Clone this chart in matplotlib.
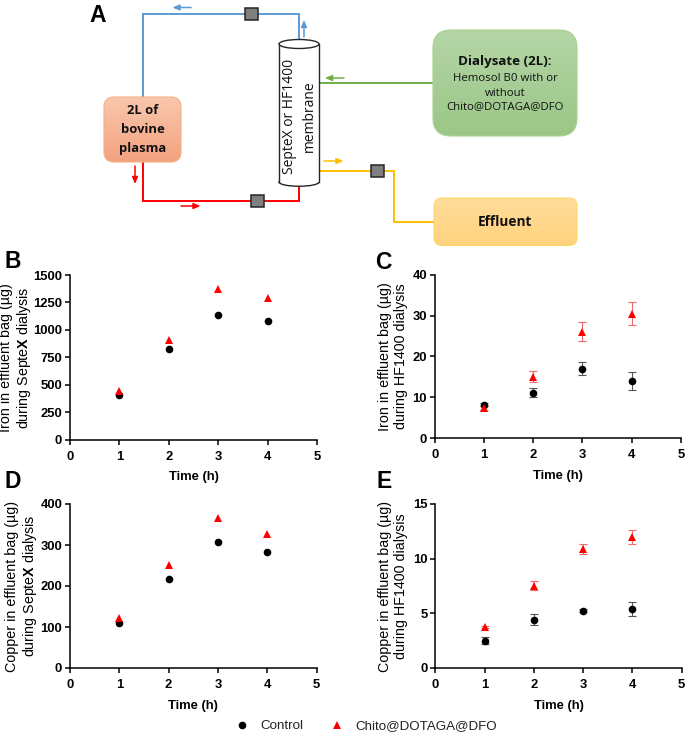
import numpy as np
import matplotlib
matplotlib.use('Agg')
import matplotlib.pyplot as plt
from matplotlib.patches import FancyBboxPatch, Rectangle, Ellipse
from matplotlib.lines import Line2D

plt.rcParams['font.family'] = ['Liberation Sans', 'DejaVu Sans']
plt.rcParams['mathtext.fontset'] = 'custom'
plt.rcParams['mathtext.rm'] = 'Liberation Sans'
plt.rcParams['mathtext.bf'] = 'Liberation Sans:bold'

W, H = 685, 734
DIAG_FONT = ['Open Sans', 'DejaVu Sans']

# data
hours = [1, 2, 3, 4]

iron_septex_ctrl = [407, 823, 1139, 1081]
iron_septex_chito = [443, 908, 1369, 1290]

iron_hf_ctrl = [8.2, 11.1, 17.0, 13.9]
iron_hf_ctrl_err = [0.4, 1.15, 1.6, 2.2]
iron_hf_chito = [7.4, 15.0, 26.0, 30.4]
iron_hf_chito_err = [0.5, 1.4, 2.3, 2.8]

copper_septex_ctrl = [109, 216, 307, 284]
copper_septex_chito = [121, 251, 367, 328]

copper_hf_ctrl = [2.5, 4.4, 5.24, 5.37]
copper_hf_ctrl_err = [0.3, 0.5, 0.15, 0.65]
copper_hf_chito = [3.78, 7.53, 10.85, 12.0]
copper_hf_chito_err = [0.1, 0.4, 0.45, 0.65]

fig = plt.figure(figsize=(W / 100, H / 100), dpi=100)

#%% schematic, drawn in pixel coordinates
diag = fig.add_axes([0, 0, 1, 1])
diag.set_xlim(0, W)
diag.set_ylim(H, 0)
diag.axis('off')

BLUE = '#5b9bd5'
RED = '#ff0000'
GREEN = '#70ad47'
YELLOW = '#ffc000'


def gradient_box(x0, y0, x1, y1, r, top, bottom, edge):
    grad = np.linspace(0, 1, 64)[:, None]
    c0 = np.array(matplotlib.colors.to_rgb(top))
    c1 = np.array(matplotlib.colors.to_rgb(bottom))
    img = (c0 + (c1 - c0) * grad)[:, None, :].reshape(64, 1, 3)
    box = FancyBboxPatch((x0 + r, y0 + r), x1 - x0 - 2 * r, y1 - y0 - 2 * r,
                         boxstyle='round,pad=%f,rounding_size=%f' % (r, r),
                         fc='none', ec=edge, lw=0.8, zorder=3)
    diag.add_patch(box)
    im = diag.imshow(img, extent=(x0, x1, y1, y0), aspect='auto', zorder=2)
    im.set_clip_path(box)


def pipe(xs, ys, color):
    diag.plot(xs, ys, color=color, lw=1.4, zorder=1, solid_joinstyle='miter')


def arrow(x0, y0, x1, y1, color):
    diag.annotate('', xy=(x1, y1), xytext=(x0, y0), zorder=4,
                  arrowprops=dict(arrowstyle='-|>,head_width=0.17,head_length=0.4',
                                  color=color, lw=1.1, shrinkA=0, shrinkB=0))


def valve(x, y):
    diag.add_patch(Rectangle((x - 6.5, y - 6), 13, 12, fc='#7f7f7f', ec='#262626',
                             lw=1.1, zorder=4))


pipe([142.7, 142.7, 299, 299], [97, 14, 14, 39], BLUE)
pipe([142.7, 142.7, 299, 299], [162, 201, 201, 186], RED)
pipe([319, 433], [83, 83], GREEN)
pipe([319, 394, 394, 434], [171, 171, 221.7, 221.7], YELLOW)

valve(251.5, 13.5)
valve(257.7, 201)
valve(378, 171)

arrow(191, 7.5, 172.5, 7.5, BLUE)
arrow(304, 37, 304, 20, BLUE)
arrow(135, 166, 135, 184, RED)
arrow(181, 206, 200.5, 206, RED)
arrow(344, 78, 325, 78, GREEN)
arrow(324, 161, 343.5, 161, YELLOW)

# membrane cylinder
diag.add_patch(Rectangle((279, 44), 40, 138, fc='white', ec='none', zorder=3))
diag.add_patch(Ellipse((299, 182), 40, 8.5, fc='white', ec='#262626', lw=1.0, zorder=2.5))
diag.plot([279, 279], [44, 182], color='#262626', lw=1.0, zorder=4)
diag.plot([319, 319], [44, 182], color='#262626', lw=1.0, zorder=4)
diag.add_patch(Ellipse((299, 44), 40, 9, fc='white', ec='#262626', lw=1.0, zorder=4))
diag.text(299.5, 116, 'SepteX or HF1400\nmembrane', rotation=90, ha='center', va='center',
          family=DIAG_FONT, fontsize=10, color='#111111', linespacing=1.42, zorder=5)

gradient_box(104, 97, 181, 162, 10, '#f9c7ad', '#f4a27f', '#f4b183')
diag.text(142.5, 129.5, '2L of\nbovine\nplasma', ha='center', va='center', family=DIAG_FONT,
          fontsize=9.4, fontweight='bold', color='#111111', linespacing=1.58, zorder=5)

gradient_box(433, 30, 577, 136, 18, '#b5d5a6', '#9ac787', '#a9d18e')
diag.text(505, 61, 'Dialysate (2L):', ha='center', va='center', family=DIAG_FONT,
          fontsize=9.6, fontweight='bold', color='#111111', zorder=5)
diag.text(505, 93, 'Hemosol B0 with or\nwithout\nChito@DOTAGA@DFO', ha='center', va='center',
          family=DIAG_FONT, fontsize=8.2, color='#111111', linespacing=1.38, zorder=5)

gradient_box(434, 198, 577, 245.5, 8, '#ffdd9b', '#ffd27f', '#ffd966')
diag.text(505, 222, 'Effluent', ha='center', va='center', family=DIAG_FONT,
          fontsize=9.8, fontweight='bold', color='#111111', zorder=5)

#%% scatter panels
panels = [
    # box in px, ymax, yticks, label, label offset, control, chito, errors
    ((70, 439.7, 317, 275), 1500, [0, 250, 500, 750, 1000, 1250, 1500],
     'Iron in effluent bag (µg)\nduring Septe$\\mathbf{X}$ dialysis', 37,
     iron_septex_ctrl, iron_septex_chito, None, None),
    ((434.7, 438, 681, 274.7), 40, [0, 10, 20, 30, 40],
     'Iron in effluent bag (µg)\nduring HF1400 dialysis', 27,
     iron_hf_ctrl, iron_hf_chito, iron_hf_ctrl_err, iron_hf_chito_err),
    ((70, 668, 316.5, 504), 400, [0, 100, 200, 300, 400],
     'Copper in effluent bag (µg)\nduring Septe$\\mathbf{X}$ dialysis', 31,
     copper_septex_ctrl, copper_septex_chito, None, None),
    ((435.3, 668, 681.7, 504), 15, [0, 5, 10, 15],
     'Copper in effluent bag (µg)\nduring HF1400 dialysis', 27.5,
     copper_hf_ctrl, copper_hf_chito, copper_hf_ctrl_err, copper_hf_chito_err),
]

for (x0, y0, x1, y1), ymax, yticks, ylabel, lab_off, ctrl, chito, ctrl_err, chito_err in panels:
    ax = fig.add_axes([x0 / W, 1 - y0 / H, (x1 - x0) / W, (y0 - y1) / H])
    ax.patch.set_alpha(0)
    if ctrl_err is not None:
        ax.errorbar(hours, ctrl, yerr=ctrl_err, fmt='none', ecolor='#555555', elinewidth=0.8,
                    capsize=2.7, capthick=0.8, zorder=2)
        ax.errorbar(hours, chito, yerr=chito_err, fmt='none', ecolor='#f46a6a', elinewidth=0.8,
                    capsize=2.7, capthick=0.8, zorder=2)
    ax.plot(hours, ctrl, 'o', color='black', ms=5.5, mew=0, zorder=3)
    ax.plot(hours, chito, '^', color='#ff0000', ms=5.8, mew=0, zorder=4)
    ax.set_xlim(0, 5)
    ax.set_ylim(0, ymax)
    ax.set_xticks(range(6))
    ax.set_yticks(yticks)
    ax.spines['top'].set_visible(False)
    ax.spines['right'].set_visible(False)
    ax.spines['left'].set_linewidth(1.1)
    ax.spines['bottom'].set_linewidth(1.1)
    ax.tick_params(width=1.1, length=3.6, labelsize=9.4)
    ax.tick_params(axis='x', pad=4.5)
    ax.tick_params(axis='y', pad=2)
    for lab in ax.get_xticklabels() + ax.get_yticklabels():
        lab.set_fontweight('bold')
    ax.set_xlabel('Time (h)', fontsize=9.4, fontweight='bold', labelpad=6)
    ax.set_ylabel(ylabel, fontsize=10.3, linespacing=1.15)
    ax.yaxis.set_label_coords(-lab_off / (x1 - x0), 0.5)

#%% panel letters
for letter, px, py in [('A', 89, 22), ('B', 4, 268), ('C', 375, 269), ('D', 4, 488), ('E', 377, 488)]:
    fig.text(px / W, 1 - py / H, letter, fontsize=16.5, fontweight='bold', ha='left', va='baseline')

#%% legend
handles = [Line2D([], [], ls='', marker='o', color='black', ms=5.5, mew=0),
           Line2D([], [], ls='', marker='^', color='#ff0000', ms=5.8, mew=0)]
fig.legend(handles, ['Control', 'Chito@DOTAGA@DFO'], ncol=2, frameon=False, fontsize=9.6,
           loc='center', bbox_to_anchor=(363 / W, 1 - 726 / H), handletextpad=0.4,
           columnspacing=1.5, labelcolor='#222222')

fig.savefig('out.png', dpi=100)
